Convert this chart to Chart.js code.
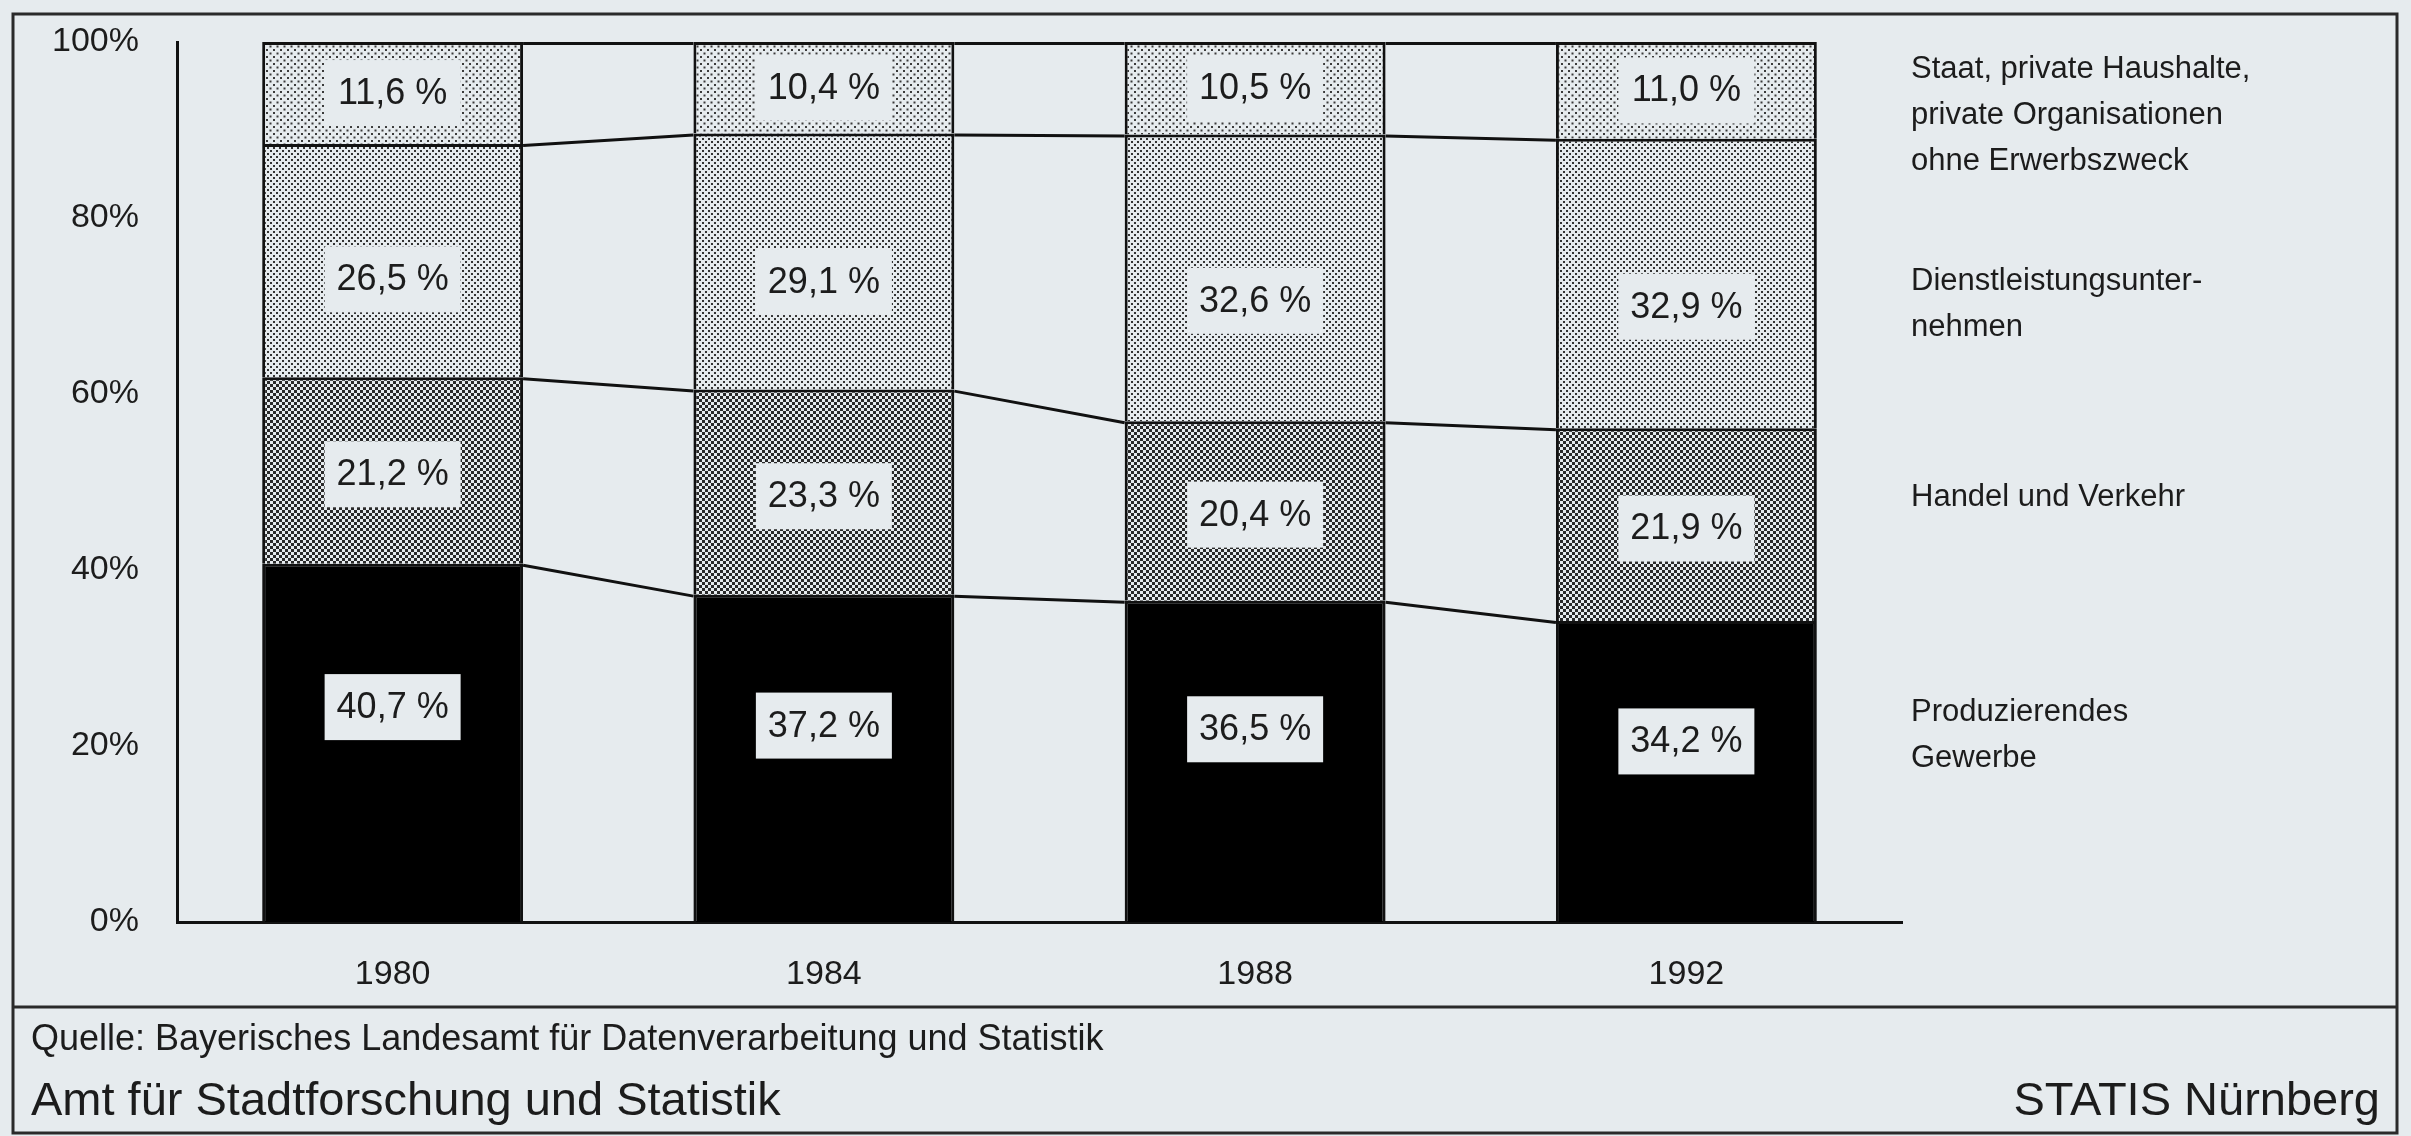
<!DOCTYPE html>
<html lang="de">
<head>
<meta charset="UTF-8">
<title>Erwerbstätige nach Wirtschaftsbereichen</title>
<script src="https://cdn.jsdelivr.net/npm/chart.js"></script>
<style>
    body { margin: 0; background: #e6ebee; }
    canvas { display: block; }
</style>
</head>
<body>
<canvas id="chart" width="2411" height="1136"></canvas>
<script>
    // data (shares in %)
    const years = ['1980', '1984', '1988', '1992'];
    const produzierendes = [40.7, 37.2, 36.5, 34.2];
    const handel = [21.2, 23.3, 20.4, 21.9];
    const dienstleistung = [26.5, 29.1, 32.6, 32.9];
    const staat = [11.6, 10.4, 10.5, 11.0];
    const yTicks = [0, 20, 40, 60, 80, 100];

    const legendLines = [
        ['Produzierendes', 'Gewerbe'],
        ['Handel und Verkehr'],
        ['Dienstleistungsunter-', 'nehmen'],
        ['Staat, private Haushalte,', 'private Organisationen', 'ohne Erwerbszweck']
    ];
    const sourceText = 'Quelle: Bayerisches Landesamt für Datenverarbeitung und Statistik';
    const officeText = 'Amt für Stadtforschung und Statistik';
    const brandText = 'STATIS Nürnberg';

    // styling
    const BG = '#e6ebee';
    const INK = '#1c1c1c';
    const FONT = "'Liberation Sans', Arial, sans-serif";
    const labelPos = [0.6, 0.48, 0.42, 0.5];      // where the value box sits inside a segment
    const legendX = 1911;
    const legendY = [712, 497, 281, 69];
    const legendLineH = 46;

    function makePattern(size, dot, color) {
        const c = document.createElement('canvas');
        c.width = size; c.height = size;
        const g = c.getContext('2d');
        g.fillStyle = BG;
        g.fillRect(0, 0, size, size);
        g.fillStyle = color;
        g.fillRect(0, 0, dot, dot);
        g.fillRect(size / 2, size / 2, dot, dot);
        return document.getElementById('chart').getContext('2d').createPattern(c, 'repeat');
    }

    const fills = [
        '#000000',
        makePattern(6, 3, '#2a2a2a'),
        makePattern(6, 2, '#333333'),
        makePattern(7, 2, '#3a3a3a')
    ];

    const fmt = v => v.toFixed(1).replace('.', ',') + ' %';

    const decorations = {
        id: 'decorations',
        beforeDraw(chart) {
            const ctx = chart.ctx;
            ctx.save();
            ctx.fillStyle = BG;
            ctx.fillRect(0, 0, chart.width, chart.height);
            ctx.restore();
        },
        afterDatasetsDraw(chart) {
            const ctx = chart.ctx;
            ctx.save();
            // lines joining the segment borders from bar to bar
            ctx.strokeStyle = '#111';
            ctx.lineWidth = 3;
            chart.data.datasets.forEach((ds, i) => {
                const bars = chart.getDatasetMeta(i).data;
                for (let j = 0; j < bars.length - 1; j++) {
                    const a = bars[j], b = bars[j + 1];
                    ctx.beginPath();
                    ctx.moveTo(a.x + a.width / 2, a.y + 1.5);
                    ctx.lineTo(b.x - b.width / 2, b.y + 1.5);
                    ctx.stroke();
                }
            });
            // value boxes
            ctx.font = `36px ${FONT}`;
            ctx.textAlign = 'center';
            ctx.textBaseline = 'middle';
            chart.data.datasets.forEach((ds, i) => {
                chart.getDatasetMeta(i).data.forEach((bar, j) => {
                    const y = bar.base + (bar.y - bar.base) * labelPos[i];
                    ctx.fillStyle = BG;
                    ctx.fillRect(bar.x - 68, y - 33, 136, 66);
                    ctx.fillStyle = INK;
                    ctx.fillText(fmt(ds.data[j]), bar.x, y + 1);
                });
            });
            ctx.restore();
        },
        afterDraw(chart) {
            const ctx = chart.ctx;
            ctx.save();
            // frame and footer rule
            ctx.strokeStyle = '#2a2a2a';
            ctx.lineWidth = 3;
            ctx.strokeRect(13, 14, 2384, 1119);
            ctx.beginPath();
            ctx.moveTo(13, 1007);
            ctx.lineTo(2397, 1007);
            ctx.stroke();

            ctx.fillStyle = INK;
            ctx.textBaseline = 'middle';
            ctx.textAlign = 'left';
            ctx.font = `31px ${FONT}`;
            legendLines.forEach((lines, i) => {
                lines.forEach((t, k) => ctx.fillText(t, legendX, legendY[i] + k * legendLineH));
            });

            ctx.font = `36px ${FONT}`;
            ctx.fillText(sourceText, 31, 1040);
            ctx.font = `47px ${FONT}`;
            ctx.fillText(officeText, 31, 1102);
            ctx.textAlign = 'right';
            ctx.fillText(brandText, 2380, 1102);
            ctx.restore();
        }
    };

    const series = [produzierendes, handel, dienstleistung, staat];

    new Chart(document.getElementById('chart'), {
        type: 'bar',
        data: {
            labels: years,
            datasets: series.map((values, i) => ({
                label: legendLines[i].join(' '),
                data: values,
                backgroundColor: fills[i],
                borderColor: '#111',
                borderWidth: { top: 3, left: 3, right: 3, bottom: 0 },
                borderSkipped: false,
                barPercentage: 0.605,
                categoryPercentage: 1
            }))
        },
        options: {
            responsive: false,
            animation: false,
            layout: { padding: { left: 0, right: 509, top: 42, bottom: 0 } },
            plugins: {
                legend: { display: false },
                tooltip: { enabled: false }
            },
            scales: {
                x: {
                    stacked: true,
                    grid: { display: false },
                    border: { display: true, color: '#111', width: 3 },
                    ticks: { color: INK, font: { family: FONT, size: 34 }, padding: 24 },
                    afterFit: scale => { scale.height = 214; }
                },
                y: {
                    stacked: true,
                    min: 0,
                    max: 100,
                    grid: { display: false },
                    border: { display: true, color: '#111', width: 3 },
                    afterBuildTicks: scale => { scale.ticks = yTicks.map(v => ({ value: v })); },
                    ticks: {
                        color: INK,
                        font: { family: FONT, size: 34 },
                        padding: 30,
                        callback: v => v + '%'
                    },
                    afterFit: scale => {
                        scale.width = 177;
                        scale.paddingTop = 0;
                        scale.paddingBottom = 0;
                    }
                }
            }
        },
        plugins: [decorations]
    });
</script>
</body>
</html>
